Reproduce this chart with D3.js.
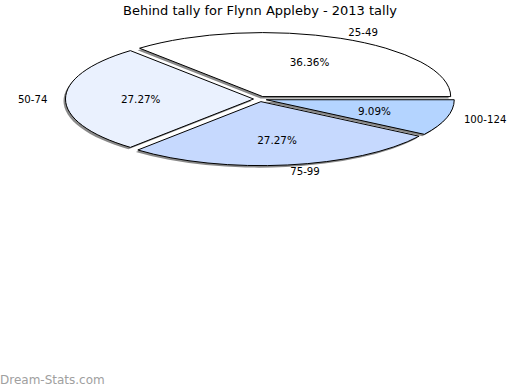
<!DOCTYPE html>
<html><head><meta charset="utf-8">
<script src="https://cdn.jsdelivr.net/npm/d3@7"></script>
<style>body{margin:0;background:#fff}svg{display:block}</style>
</head><body>
<svg id="c" width="520" height="390"></svg>
<script>
const categories = ["25-49", "50-74", "75-99", "100-124"];
const values = [4, 3, 3, 1];
const colors = ["#ffffff", "#eaf1fe", "#c6d9fe", "#b4d4ff"];
const title = "Behind tally for Flynn Appleby - 2013 tally";
const watermark = "Dream-Stats.com";

const W = 520, H = 390;
const cx = 260, cy = 99, rx = 188, ry = 64, explode = 6.5;
const sy = ry / rx;
const font = "DejaVu Sans, sans-serif";
const svg = d3.select("#c");

svg.append("text").attr("x", W / 2).attr("y", 15).attr("text-anchor", "middle")
  .attr("font-family", font).attr("font-size", 13).attr("fill", "#000").text(title);

const total = d3.sum(values);
const pie = d3.pie().sort(null).startAngle(Math.PI / 2).endAngle(Math.PI / 2 - 2 * Math.PI);
const arcs = pie(values);
const arc = d3.arc().innerRadius(0).outerRadius(rx);

function off(a) {
  const m = (a.startAngle + a.endAngle) / 2;
  return { m, ox: Math.sin(m) * explode, oy: -Math.cos(m) * explode * sy * 1.2 };
}

// shadows
arcs.forEach(a => {
  const o = off(a);
  svg.append("path").attr("d", arc(a))
    .attr("transform", `translate(${cx + o.ox - 2},${cy + o.oy + 2}) scale(1,${sy})`)
    .attr("fill", "#8a8a8a").attr("stroke", "none");
});
// slices
arcs.forEach((a, i) => {
  const o = off(a);
  svg.append("path").attr("d", arc(a))
    .attr("transform", `translate(${cx + o.ox},${cy + o.oy}) scale(1,${sy})`)
    .attr("fill", colors[i]).attr("stroke", "#000").attr("stroke-width", 1)
    .attr("vector-effect", "non-scaling-stroke").attr("stroke-linejoin", "miter");
});
// labels
arcs.forEach((a, i) => {
  const o = off(a);
  const s = Math.sin(o.m), c = -Math.cos(o.m);
  const pcx = cx + o.ox, pcy = cy + o.oy;
  svg.append("text").attr("x", pcx + s * rx * 0.6).attr("y", pcy + c * ry * 0.6)
    .attr("text-anchor", "middle").attr("dominant-baseline", "central")
    .attr("font-family", font).attr("font-size", 10.4).attr("fill", "#000")
    .text((values[i] / total * 100).toFixed(2) + "%");
  const px = pcx + s * (rx + 18), py = pcy + c * (ry + 2);
  const anchor = s > 0.1 ? "start" : (s < -0.1 ? "end" : "middle");
  svg.append("text").attr("x", px).attr("y", py + c * 5)
    .attr("text-anchor", anchor).attr("dominant-baseline", "central")
    .attr("font-family", font).attr("font-size", 10.2).attr("fill", "#000")
    .text(categories[i]);
});

svg.append("text").attr("x", 0).attr("y", 384).attr("font-family", font)
  .attr("font-size", 12).attr("fill", "#a0a0a0").text(watermark);
</script>
</body></html>
